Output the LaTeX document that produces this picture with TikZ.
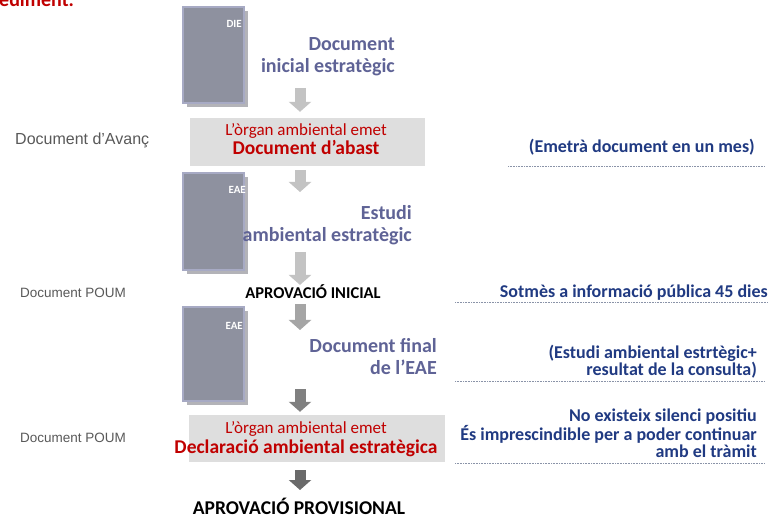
\documentclass[tikz,border=0pt]{standalone}
\usepackage{fontspec}
\setmainfont{Carlito}
\newfontfamily\labelfont{Liberation Sans}
\usetikzlibrary{arrows.meta}
\definecolor{titleblue}{HTML}{5F6396}
\definecolor{emetred}{HTML}{C00000}
\definecolor{noteblue}{HTML}{203A82}
\definecolor{labelgrey}{HTML}{595959}
\definecolor{boxgrey}{HTML}{DEDEDE}
\definecolor{docfront}{HTML}{8E919F}
\definecolor{docedge}{HTML}{A7AAC4}
\definecolor{docback}{HTML}{B3B3B8}
\definecolor{dotgrey}{HTML}{8A93A8}
\definecolor{flowA}{HTML}{C3C3C3}
\definecolor{flowB}{HTML}{A5A5A5}
\definecolor{flowC}{HTML}{808080}
\definecolor{flowD}{HTML}{6A6A6A}

\begin{document}
\begin{tikzpicture}
    [x=1pt,y=-1pt,
    docsheet/.style={fill=docfront,draw=docedge,line width=1.2pt},
    docshade/.style={fill=docback},
    doctag/.style={text=white,font=\fontsize{11}{12}\selectfont\bfseries,inner sep=0pt,anchor=base east},
    doctitle/.style={text=titleblue,font=\fontsize{20}{22}\selectfont\bfseries,align=right,inner sep=0pt,anchor=east},
    stepbox/.style={fill=boxgrey,inner sep=0pt},
    emet/.style={text=emetred,font=\fontsize{17}{18}\selectfont,inner sep=0pt,anchor=base},
    emetbold/.style={text=emetred,font=\fontsize{19.5}{20}\selectfont\bfseries,inner sep=0pt,anchor=base},
    stage/.style={inner sep=0pt,anchor=base},
    sidelabel/.style={text=labelgrey,inner sep=0pt,anchor=base west},
    note/.style={text=noteblue,font=\fontsize{18}{17}\selectfont\bfseries,align=right,inner sep=0pt,anchor=east},
    noteline/.style={draw=dotgrey,line width=0.8pt,dash pattern=on 0.8pt off 0.8pt},
    flow/.style={line width=11pt,-{Triangle[length=10pt,width=22pt]}}]
    \useasboundingbox[fill=white] (0,0) rectangle (782,521);
    %cut off heading
    \node[text=emetred,font=\fontsize{20}{22}\selectfont\bfseries,inner sep=0pt,anchor=base west] (head) at (-1,7) {ediment.};
    %documents
    \fill[docshade] (187,11) rectangle (248,107);
    \draw[docsheet] (183,7) rectangle (244,103);
    \node[doctag] (die) at (242,28) {DIE};
    \fill[docshade] (187,177) rectangle (248,274);
    \draw[docsheet] (183,173) rectangle (244,270);
    \node[doctag] (eae1) at (246,194) {EAE};
    \fill[docshade] (187,311) rectangle (248,405);
    \draw[docsheet] (183,307) rectangle (244,401);
    \node[doctag] (eae2) at (243,330) {EAE};
    %document titles
    \node[doctitle] (inicial) at (395,57) {Document\\inicial estratègic};
    \node[doctitle] (estudi) at (412,225) {Estudi\\ambiental estratègic};
    \node[doctitle] (final) at (437,357) {Document final\\de l’EAE};
    %grey boxes
    \node[stepbox,minimum width=235pt,minimum height=48pt] (box1) at (307.5,142) {};
    \node[emet] (organ1) at (306,136) {L’òrgan ambiental emet};
    \node[emetbold] (abast) at (306,155) {Document d’abast};
    \node[stepbox,minimum width=256pt,minimum height=47pt] (box2) at (317,438.5) {};
    \node[emet] (organ2) at (306,433) {L’òrgan ambiental emet};
    \node[emetbold] (declaracio) at (306,453) {Declaració ambiental estratègica};
    %stages
    \node[stage,font=\fontsize{16.5}{18}\selectfont\bfseries] (ini) at (313,299) {APROVACIÓ INICIAL};
    \node[stage,font=\fontsize{19.5}{21}\selectfont\bfseries] (prov) at (299,514) {APROVACIÓ PROVISIONAL};
    %side labels
    \node[sidelabel,font=\labelfont\fontsize{16}{18}\selectfont] (avanc) at (15,145) {Document d’Avanç};
    \node[sidelabel,font=\labelfont\fontsize{13.5}{15}\selectfont] (poum1) at (20,298) {Document POUM};
    \node[sidelabel,font=\labelfont\fontsize{13.5}{15}\selectfont] (poum2) at (20,442) {Document POUM};
    %notes
    \node[note,anchor=base east] (mes) at (755,153) {(Emetrà document en un mes)};
    \draw[noteline] (508,166) -- (765,166);
    \node[note,anchor=base east] (publica) at (768,298) {Sotmès a informació pública 45 dies};
    \draw[noteline] (455,302) -- (768,302);
    \node[note] (consulta) at (757,362) {(Estudi ambiental estrtègic+\\resultat de la consulta)};
    \draw[noteline] (455,381) -- (765,381);
    \node[note] (silenci) at (757,433) {No existeix silenci positiu\\És imprescindible per a poder continuar\\amb el tràmit};
    \draw[noteline] (455,463) -- (765,463);
    %arrows
    \coordinate (a1) at (300,88);
    \coordinate (a2) at (300,192);
    \coordinate (a3) at (300,252);
    \coordinate (a4) at (300,330);
    \coordinate (a5) at (300,389);
    \coordinate (a6) at (300,490);
    \draw[flow,flowA,shorten >=6pt] (a1) -- (a1 |- box1.north);
    \draw[flow,flowA,shorten <=4pt] (a2 |- box1.south) -- (a2);
    \draw[flow,flowA] (a3) -- (a3 |- ini.north);
    \draw[flow,flowB,shorten <=5pt] (a4 |- ini.south) -- (a4);
    \draw[flow,flowC,shorten >=3pt] (a5) -- (a5 |- box2.north);
    \draw[flow,flowD,shorten <=8pt] (a6 |- box2.south) -- (a6);
\end{tikzpicture}
\end{document}
